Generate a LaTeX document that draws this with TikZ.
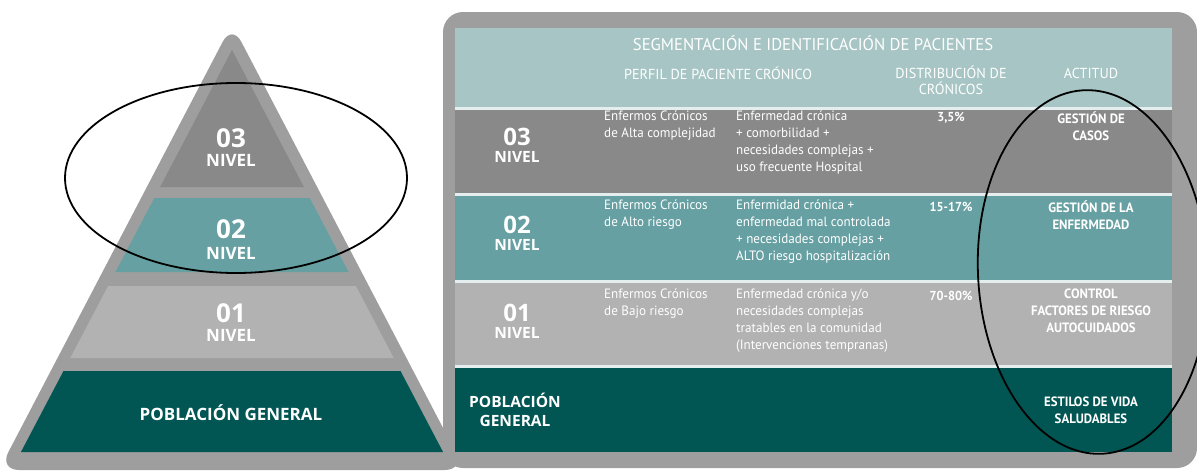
\documentclass[tikz,border=0pt]{standalone}
\usepackage{fontspec}
\setmainfont{PT Sans}[FakeStretch=0.97]
\newfontfamily\hfont{PT Sans}[FakeStretch=0.98]
\newfontfamily\afont{PT Sans}[FakeStretch=0.95]
\newfontfamily\wfont{Open Sans}
\usetikzlibrary{shapes.geometric}
\definecolor{frame}{HTML}{9E9E9E}
\definecolor{hdr}{HTML}{A6C5C4}
\definecolor{rowA}{HTML}{898989}
\definecolor{rowB}{HTML}{66A0A2}
\definecolor{rowC}{HTML}{B1B2B1}
\definecolor{rowD}{HTML}{015653}
\definecolor{sep}{HTML}{E4EEEE}
\tikzset{
  body/.style={text=white, inner sep=0pt, anchor=north west, align=left, font=\fontsize{13.5}{17}\selectfont},
  headtxt/.style={text=white, inner sep=0pt, align=center, font=\hfont\fontsize{14.5}{16}\selectfont},
  acttxt/.style={text=white, inner sep=0pt, align=center, font=\afont\bfseries\fontsize{13.5}{17}\selectfont},
  pct/.style={text=white, inner sep=0pt, font=\afont\bfseries\fontsize{13}{17}\selectfont},
  bignum/.style={text=white, inner sep=0pt, font=\wfont\bfseries\fontsize{26}{26}\selectfont},
  niveltxt/.style={text=white, inner sep=0pt, font=\wfont\bfseries\fontsize{17}{17}\selectfont},
  ring/.style={draw=black, line width=1.8pt}
}
\begin{document}
\begin{tikzpicture}[x=1pt,y=-1pt]
\useasboundingbox (0,0) rectangle (1197,474);
% ---------- pyramid ----------
\fill[frame, rounded corners=20pt] (232,24) -- (465,470) -- (-1,470) -- cycle;
\fill[rowA] (232,50) -- (303.9,187) -- (160.1,187) -- cycle;
\fill[rowB] (154.3,198) -- (309.7,198) -- (348.55,272) -- (115.45,272) -- cycle;
\fill[rowC] (108.1,286) -- (355.9,286) -- (393.7,358) -- (70.3,358) -- cycle;
\fill[rowD] (63.5,371) -- (400.5,371) -- (443.05,452) -- (20.95,452) -- cycle;
\node[bignum] (p3n) at (231,138) {03};
\node[niveltxt] (p3l) at (231,160) {NIVEL};
\node[bignum] (p2n) at (231,229) {02};
\node[niveltxt] (p2l) at (231,253) {NIVEL};
\node[bignum] (p1n) at (231,313) {01};
\node[niveltxt] (p1l) at (231,335) {NIVEL};
\node[niveltxt] (p0) at (231,413) {POBLACIÓN GENERAL};
% ---------- table panel ----------
\fill[frame, rounded corners=20pt] (443,12) rectangle (1197,468);
\fill[sep] (455,28) rectangle (1172,452);
\fill[hdr] (455,28) rectangle (1172,107);
\fill[rowA] (455,110) rectangle (1172,193);
\fill[rowB] (455,196) rectangle (1172,280);
\fill[rowC] (455,283) rectangle (1172,365);
\fill[rowD] (455,368) rectangle (1172,452);
% header
\node[headtxt, font=\hfont\fontsize{17}{18}\selectfont] (h0) at (813,43) {SEGMENTACIÓN E IDENTIFICACIÓN DE PACIENTES};
\node[headtxt] (h1) at (718,73) {PERFIL DE PACIENTE CRÓNICO};
\node[headtxt, anchor=north] (h2) at (951,66) {DISTRIBUCIÓN DE\\CRÓNICOS};
\node[headtxt] (h3) at (1091,73) {ACTITUD};
% row 03
\node[bignum, font=\wfont\bfseries\fontsize{24}{24}\selectfont] (t3n) at (517,137) {03};
\node[niveltxt, font=\wfont\bfseries\fontsize{15.5}{16}\selectfont] (t3l) at (517,157) {NIVEL};
\node[body] (t3a) at (604,111) {Enfermos Crónicos\\de Alta complejidad};
\node[body] (t3b) at (736,111) {Enfermedad crónica\\+ comorbilidad +\\necesidades complejas +\\uso frecuente Hospital};
\node[pct] (t3c) at (951,118) {3,5\%};
\node[acttxt, anchor=north] (t3d) at (1091,112) {GESTIÓN DE\\CASOS};
% row 02
\node[bignum, font=\wfont\bfseries\fontsize{24}{24}\selectfont] (t2n) at (517,225) {02};
\node[niveltxt, font=\wfont\bfseries\fontsize{15.5}{16}\selectfont] (t2l) at (517,245) {NIVEL};
\node[body] (t2a) at (604,200) {Enfermos Crónicos\\de Alto riesgo};
\node[body] (t2b) at (736,200) {Enfermidad crónica +\\enfermedad mal controlada\\+ necesidades complejas +\\ALTO riesgo hospitalización};
\node[pct] (t2c) at (951,207) {15-17\%};
\node[acttxt, anchor=north] (t2d) at (1091,201) {GESTIÓN DE LA\\ENFERMEDAD};
% row 01
\node[bignum, font=\wfont\bfseries\fontsize{24}{24}\selectfont] (t1n) at (517,313) {01};
\node[niveltxt, font=\wfont\bfseries\fontsize{15.5}{16}\selectfont] (t1l) at (517,333) {NIVEL};
\node[body] (t1a) at (604,289) {Enfermos Crónicos\\de Bajo riesgo};
\node[body] (t1b) at (736,289) {Enfermedad crónica y/o\\necesidades complejas\\tratables en la comunidad\\(Intervenciones tempranas)};
\node[pct] (t1c) at (951,296) {70-80\%};
\node[acttxt, anchor=north] (t1d) at (1091,289) {CONTROL\\FACTORES DE RIESGO\\AUTOCUIDADOS};
% poblacion general
\node[headtxt, font=\wfont\bfseries\fontsize{15.5}{19}\selectfont] (t0n) at (515,410) {POBLACIÓN\\GENERAL};
\node[acttxt] (t0d) at (1091,410) {ESTILOS DE VIDA\\SALUDABLES};
% ---------- rings ----------
\node[ring, ellipse, minimum width=342pt, minimum height=190pt, inner sep=0pt] (e1) at (236,178) {};
\draw[ring, rotate around={3:(1093,272)}] (1093,272) ellipse [x radius=115, y radius=182];
\end{tikzpicture}
\end{document}
